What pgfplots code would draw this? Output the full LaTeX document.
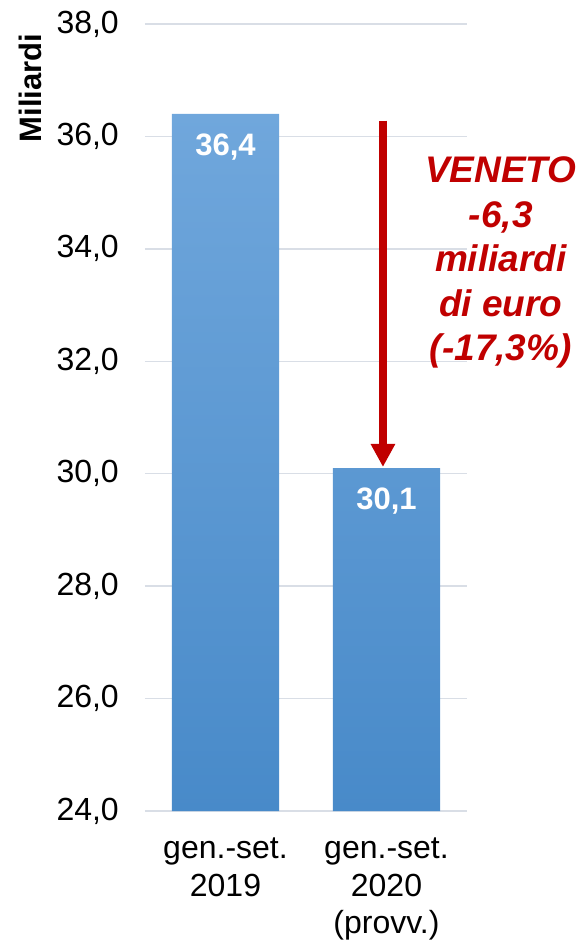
\documentclass[border=0pt]{standalone}
\usepackage{fontspec}
\setmainfont{Liberation Sans}
\usepackage{pgfplots}
\pgfplotsset{compat=1.18}
\usetikzlibrary{arrows.meta}
\definecolor{gridc}{RGB}{217,222,230}
\definecolor{bartop}{RGB}{112,167,220}
\definecolor{barbot}{RGB}{72,138,201}
\definecolor{arrred}{RGB}{192,0,0}
\begin{document}
\begin{tikzpicture}
\useasboundingbox (0,0) rectangle (582pt,940pt);
\begin{axis}[
  at={(145pt,129pt)}, anchor=south west,
  scale only axis, width=322pt, height=787pt,
  xmin=-0.5, xmax=1.5, ymin=24, ymax=38,
  ytick={24,26,28,30,32,34,36,38},
  xtick={0,1},
  xticklabels={{gen.-set.\\2019},{gen.-set.\\2020\\(provv.)}},
  ymajorgrids, grid style={color=gridc, line width=1.3pt},
  axis line style={draw=none},
  major tick length=0pt,
  clip=false,
  /pgf/number format/.cd, use comma, fixed, fixed zerofill, precision=1, 1000 sep={}, assume math mode=true,
  /pgfplots/.cd,
  yticklabel style={font=\fontsize{32}{38}\selectfont, anchor=east, inner sep=0pt, xshift=-26pt},
  xticklabel style={font=\fontsize{32}{37.5}\selectfont, align=center, anchor=north, inner sep=0pt, yshift=-27pt},
  ybar, bar width=0.665,
  nodes near coords,
  every node near coord/.append style={font=\fontsize{31}{36}\selectfont\bfseries, color=white, anchor=north, inner sep=0pt, yshift=-20pt},
]
\addplot[bar shift=0pt, draw=none, top color=bartop, bottom color=barbot] coordinates {(0,36.4) (1,30.1)};
\draw[line width=8pt, color=arrred, -{Triangle[width=23pt,length=23pt]}] (axis cs:0.978,36.28) -- (axis cs:0.978,30.12);
\node[anchor=north, inner sep=0pt, align=center, color=arrred, font=\fontsize{37}{44.5}\selectfont\bfseries\itshape] at (axis cs:1.71,35.64) {VENETO\\-6,3\\miliardi\\di euro\\(-17,3\%)};
\node[rotate=90, anchor=center, inner sep=0pt, font=\fontsize{31}{36}\selectfont\bfseries] at (rel axis cs:-0.357,0.9187) {Miliardi};
\end{axis}
\end{tikzpicture}
\end{document}
